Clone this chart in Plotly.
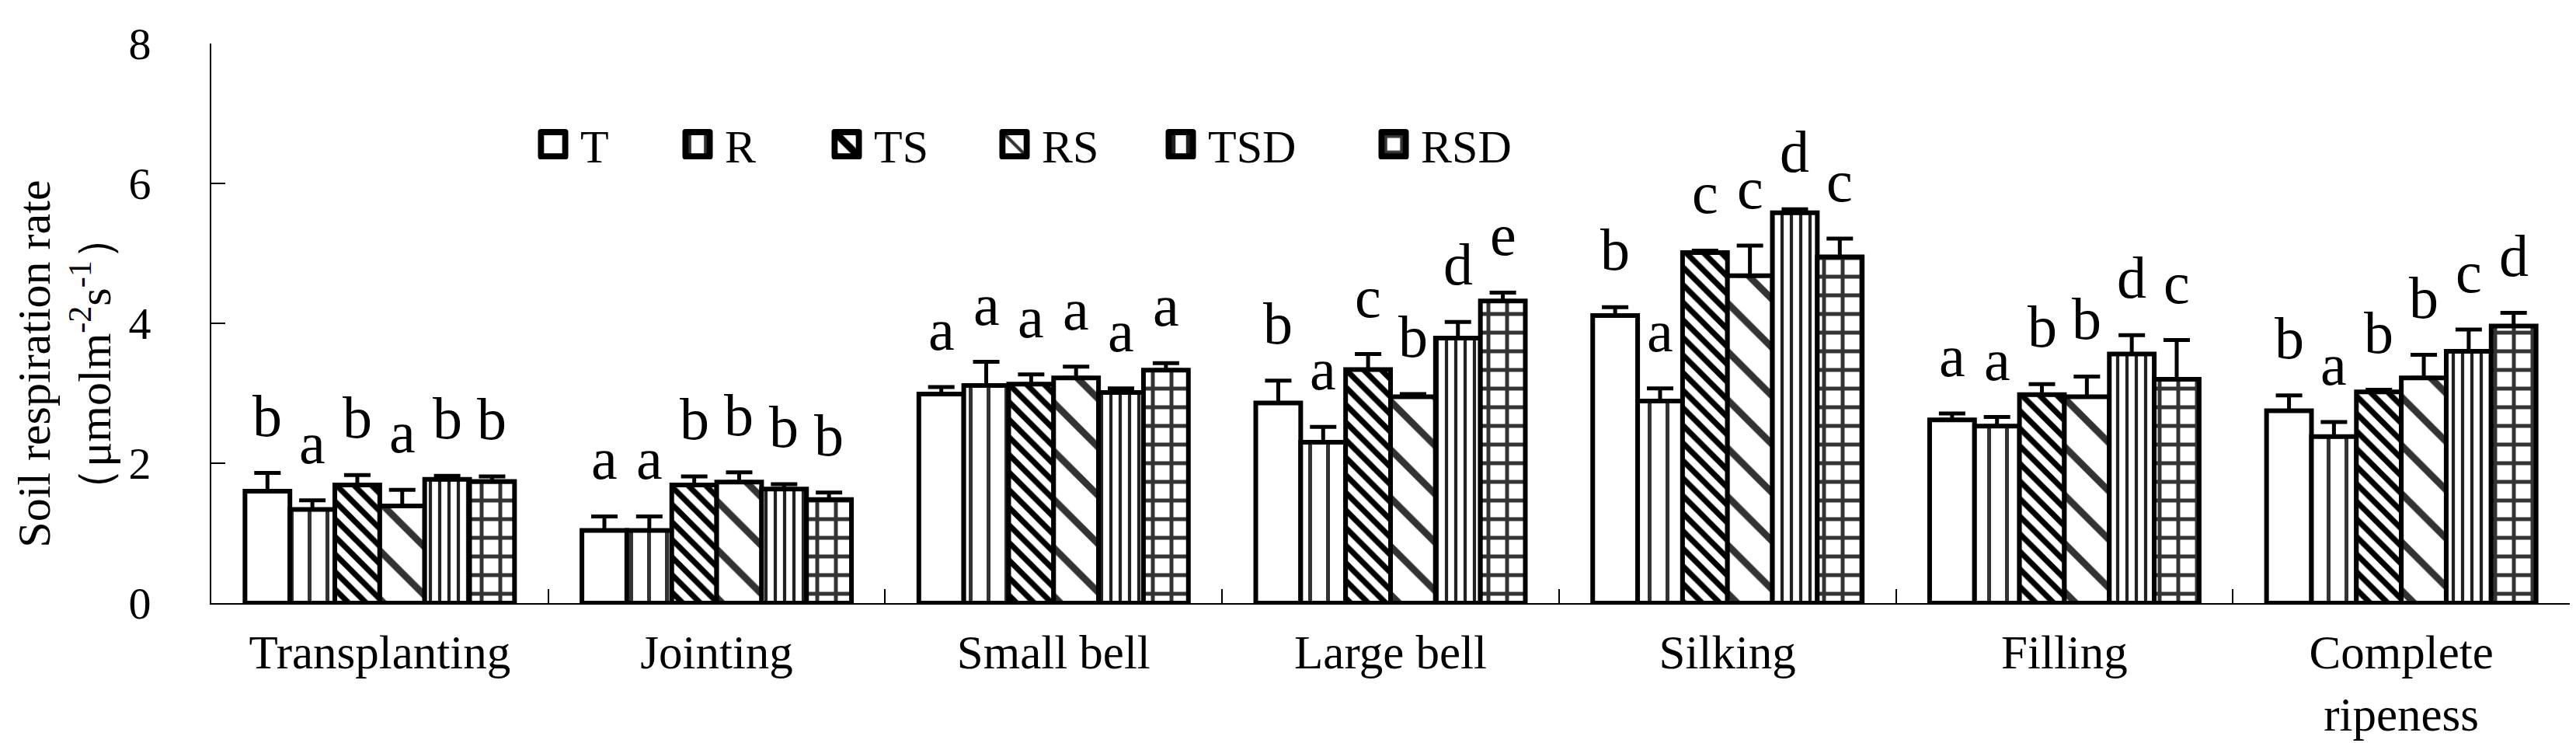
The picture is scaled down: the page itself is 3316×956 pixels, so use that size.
import plotly.graph_objects as go

categories = ["Transplanting", "Jointing", "Small bell", "Large bell", "Silking", "Filling", "Complete<br>ripeness"]
series_names = ["T", "R", "TS", "RS", "TSD", "RSD"]

T_vals = [1.60, 1.04, 2.99, 2.86, 4.11, 2.62, 2.75]
T_err = [0.26, 0.20, 0.10, 0.32, 0.12, 0.09, 0.22]
T_letters = ["b", "a", "a", "b", "b", "a", "b"]

R_vals = [1.34, 1.04, 3.11, 2.30, 2.89, 2.53, 2.38]
R_err = [0.13, 0.20, 0.34, 0.22, 0.18, 0.13, 0.21]
R_letters = ["a", "a", "a", "a", "a", "a", "a"]

TS_vals = [1.69, 1.69, 3.13, 3.34, 5.01, 2.98, 3.02]
TS_err = [0.14, 0.12, 0.14, 0.22, 0.03, 0.15, 0.03]
TS_letters = ["b", "b", "a", "c", "c", "b", "b"]

RS_vals = [1.39, 1.73, 3.22, 2.95, 4.68, 2.95, 3.22]
RS_err = [0.23, 0.14, 0.16, 0.04, 0.43, 0.29, 0.33]
RS_letters = ["a", "b", "a", "b", "c", "b", "b"]

TSD_vals = [1.77, 1.63, 3.01, 3.79, 5.58, 3.56, 3.60]
TSD_err = [0.05, 0.07, 0.06, 0.23, 0.05, 0.27, 0.31]
TSD_letters = ["b", "b", "a", "d", "d", "d", "c"]

RSD_vals = [1.74, 1.48, 3.33, 4.32, 4.95, 3.20, 3.96]
RSD_err = [0.07, 0.10, 0.10, 0.12, 0.26, 0.56, 0.19]
RSD_letters = ["b", "b", "a", "e", "c", "c", "d"]

y_ticks = [0, 2, 4, 6, 8]

all_vals = [T_vals, R_vals, TS_vals, RS_vals, TSD_vals, RSD_vals]
all_err = [T_err, R_err, TS_err, RS_err, TSD_err, RSD_err]
all_letters = [T_letters, R_letters, TS_letters, RS_letters, TSD_letters, RSD_letters]

patterns = [
    dict(shape=""),
    dict(shape="|", size=23, solidity=0.22, fgcolor="#333333", bgcolor="white", fillmode="replace"),
    dict(shape="\\", size=16, solidity=0.45, fgcolor="#000000", bgcolor="white", fillmode="replace"),
    dict(shape="\\", size=44, solidity=0.2, fgcolor="#333333", bgcolor="white", fillmode="replace"),
    dict(shape="|", size=12, solidity=0.35, fgcolor="#222222", bgcolor="white", fillmode="replace"),
    dict(shape="+", size=24, solidity=0.37, fgcolor="#333333", bgcolor="white", fillmode="replace"),
]

W, H = 3316, 956
ML, MR, MT, MB = 264, 16, 48, 188
BARGAP = 0.2
FONT = "Liberation Serif, Times New Roman, serif"

plot_w = W - ML - MR
bar_px = plot_w / len(categories) * (1 - BARGAP) / len(series_names)

# legend item left positions (pixels from left of plot area)
legend_px = [420, 606, 798, 1014, 1228, 1502]

fig = go.Figure()
for i, name in enumerate(series_names):
    lg = "legend" if i == 0 else f"legend{i+1}"
    fig.add_trace(go.Bar(
        x=categories, y=all_vals[i], name="\u00a0" + name,
        marker=dict(color="white", line=dict(color="black", width=6), pattern=patterns[i]),
        error_y=dict(type="data", symmetric=False, array=all_err[i], arrayminus=[0] * len(categories),
                     color="black", thickness=5, width=17),
        legend=lg,
    ))

annotations = []
for i in range(len(series_names)):
    for j, c in enumerate(categories):
        annotations.append(dict(
            x=c, y=all_vals[i][j] + all_err[i][j], xref="x", yref="y",
            text=all_letters[i][j], showarrow=False, yanchor="bottom", xanchor="center",
            xshift=(i - 2.5) * bar_px, yshift=30,
            font=dict(family=FONT, size=76, color="black"),
        ))

annotations.append(dict(
    x=-0.0623, y=0.428, xref="paper", yref="paper", textangle=-90,
    text="Soil respiration rate<br>\uff08\u03bcmolm<sup>-2</sup>s<sup>-1</sup>\uff09",
    showarrow=False, xanchor="center", yanchor="middle",
    font=dict(family=FONT, size=60, color="black"),
))

layout = dict(
    width=W, height=H,
    margin=dict(l=ML, r=MR, t=MT, b=MB, autoexpand=False),
    paper_bgcolor="white", plot_bgcolor="white",
    font=dict(family=FONT, color="black"),
    barmode="group", bargap=BARGAP, bargroupgap=0,
    xaxis=dict(type="category", showline=True, linecolor="black", linewidth=2,
               ticks="inside", tickson="boundaries", ticklen=18, tickwidth=2, tickcolor="black",
               tickfont=dict(family=FONT, size=61), ticklabelstandoff=9,
               showgrid=False, zeroline=False, automargin=False),
    yaxis=dict(range=[0, 8], tickvals=y_ticks, showline=True, linecolor="black", linewidth=2,
               ticks="inside", ticklen=18, tickwidth=2, tickcolor="black",
               tickfont=dict(family=FONT, size=58), ticklabelstandoff=64,
               showgrid=False, zeroline=False, automargin=False),
    annotations=annotations,
    showlegend=True,
)
for i in range(len(series_names)):
    key = "legend" if i == 0 else f"legend{i+1}"
    layout[key] = dict(x=legend_px[i] / plot_w, y=0.82, xanchor="left", yanchor="middle",
                       orientation="h", bgcolor="rgba(0,0,0,0)", borderwidth=0,
                       font=dict(family=FONT, size=60, color="black"))
fig.update_layout(**layout)

post = """
var gd = document.getElementById('{plot_id}');
function fixLegend(){
  gd.querySelectorAll('g.legendpoints path').forEach(function(p){
    p.setAttribute('transform', 'translate(20,0) scale(2.6)');
    p.style.strokeWidth = '3px';
    p.style.strokeLinejoin = 'round';
  });
}
fixLegend();
if (gd.on) { gd.on('plotly_afterplot', fixLegend); }
setTimeout(fixLegend, 50);
setTimeout(fixLegend, 300);
setTimeout(fixLegend, 1000);
"""
fig.write_html("out.html", post_script=post)
